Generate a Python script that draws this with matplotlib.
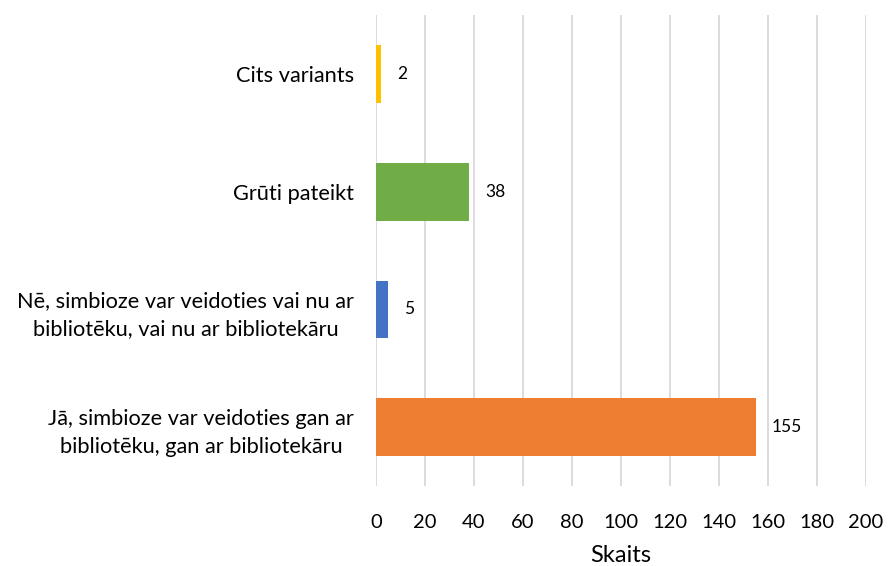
import matplotlib
matplotlib.use("Agg")
import matplotlib.pyplot as plt

# data, bottom to top
categories = [
    "Jā, simbioze var veidoties gan ar\nbibliotēku, gan ar bibliotekāru",
    "Nē, simbioze var veidoties vai nu ar\nbibliotēku, vai nu ar bibliotekāru",
    "Grūti pateikt",
    "Cits variants",
]
counts = [155, 5, 38, 2]
bar_colors = ["#ED7D31", "#4472C4", "#70AD47", "#FFC000"]
x_ticks = list(range(0, 201, 20))

plt.rcParams['font.family'] = ['Lato', 'DejaVu Sans']

fig = plt.figure(figsize=(8.89, 5.66), dpi=100)
ax = fig.add_axes([0.423, 0.141, 0.551, 0.8325])

y = range(len(categories))
bars = ax.barh(y, counts, height=0.49, color=bar_colors, zorder=3)

for rect, val in zip(bars, counts):
    ax.text(rect.get_width() + 6.5, rect.get_y() + rect.get_height() / 2, str(val),
            va='center', ha='left', fontsize=12.5, color='black')

ax.set_xlim(0, 200)
ax.set_ylim(-0.5, len(categories) - 0.5)
ax.set_xticks(x_ticks)
ax.set_yticks(list(y))
ax.set_yticklabels(categories, fontsize=15.7, linespacing=1.5, multialignment='center')
ax.tick_params(axis='x', length=0, pad=20, labelsize=14.5)
ax.tick_params(axis='y', length=0, pad=16)
ax.xaxis.grid(True, color='#D9D9D9', linewidth=1.3, zorder=0)
for s in ax.spines.values():
    s.set_visible(False)
ax.set_xlabel("Skaits", fontsize=17, labelpad=10)

fig.savefig("out.png", dpi=100)
